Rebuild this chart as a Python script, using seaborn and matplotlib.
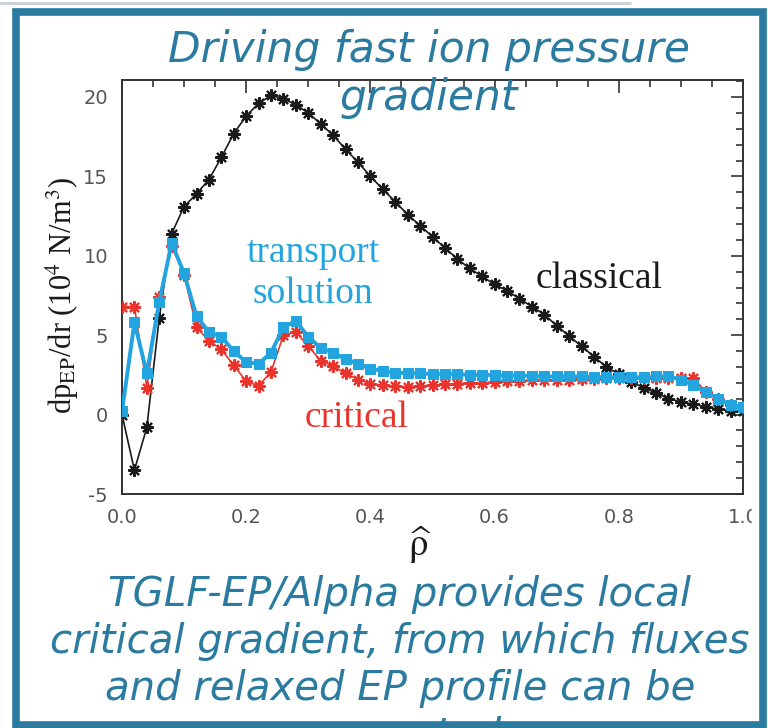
import numpy as np
import pandas as pd
import matplotlib
matplotlib.use("Agg")
import matplotlib.pyplot as plt
from matplotlib.patches import Rectangle
from matplotlib.lines import Line2D
from matplotlib.ticker import MultipleLocator
import seaborn as sns

# normalized radius, one point every 0.02
rho = [0.00, 0.02, 0.04, 0.06, 0.08, 0.10, 0.12, 0.14, 0.16, 0.18,
       0.20, 0.22, 0.24, 0.26, 0.28, 0.30, 0.32, 0.34, 0.36, 0.38,
       0.40, 0.42, 0.44, 0.46, 0.48, 0.50, 0.52, 0.54, 0.56, 0.58,
       0.60, 0.62, 0.64, 0.66, 0.68, 0.70, 0.72, 0.74, 0.76, 0.78,
       0.80, 0.82, 0.84, 0.86, 0.88, 0.90, 0.92, 0.94, 0.96, 0.98, 1.00]

classical = [0.0, -3.5, -0.8, 6.1, 11.4, 13.1, 13.9, 14.8, 16.2, 17.7,
             18.8, 19.6, 20.1, 19.9, 19.5, 19.0, 18.3, 17.6, 16.7, 15.9,
             15.0, 14.2, 13.4, 12.6, 11.9, 11.2, 10.5, 9.8, 9.2, 8.7,
             8.2, 7.8, 7.3, 6.8, 6.3, 5.6, 4.95, 4.3, 3.65, 3.0,
             2.55, 2.05, 1.7, 1.35, 1.0, 0.8, 0.65, 0.5, 0.35, 0.25, 0.2]

critical = [6.8, 6.8, 1.7, 7.4, 10.6, 8.8, 5.5, 4.65, 4.1, 3.1,
            2.1, 1.8, 2.7, 5.0, 5.2, 4.3, 3.4, 3.05, 2.6, 2.2,
            1.95, 1.85, 1.8, 1.75, 1.8, 1.85, 1.9, 1.95, 2.0, 2.0,
            2.05, 2.1, 2.1, 2.15, 2.15, 2.2, 2.2, 2.25, 2.25, 2.3,
            2.3, 2.3, 2.3, 2.3, 2.3, 2.3, 2.3, 1.45, 1.0, 0.6, 0.45]

transport = [0.2, 5.8, 2.6, 7.1, 10.8, 8.9, 6.2, 5.2, 4.9, 4.0,
             3.3, 3.2, 3.9, 5.5, 5.9, 4.9, 4.2, 3.9, 3.5, 3.2,
             2.9, 2.75, 2.65, 2.6, 2.6, 2.55, 2.55, 2.55, 2.5, 2.5,
             2.5, 2.45, 2.45, 2.45, 2.4, 2.4, 2.4, 2.4, 2.35, 2.35,
             2.35, 2.35, 2.35, 2.4, 2.4, 2.2, 1.85, 1.45, 1.0, 0.6, 0.45]

y_ticks = [-5, 0, 5, 10, 15, 20]
x_ticks = [0.0, 0.2, 0.4, 0.6, 0.8, 1.0]

title_lines = ["Driving fast ion pressure", "gradient"]
note_lines = ["TGLF-EP/Alpha provides local",
              "critical gradient, from which fluxes",
              "and relaxed EP profile can be",
              "computed"]

TEAL = "#2b7ba0"
BLUE = "#22a5de"
RED = "#e8342c"

sns.set_style("white")
plt.rcParams["font.family"] = ["DejaVu Sans"]
plt.rcParams["mathtext.fontset"] = "stix"

W, H = 768, 728
fig = plt.figure(figsize=(W / 100, H / 100), dpi=100)

def fx(px):
    return px / W

def fy(py):
    return 1 - py / H

ax = fig.add_axes([fx(122), fy(494), fx(743) - fx(122), fy(80) - fy(494)])

df = pd.DataFrame(dict(rho=rho, classical=classical,
                       critical=critical, transport=transport))

sns.lineplot(data=df, x="rho", y="classical", ax=ax, color="#1a1a1a",
             lw=1.2, marker=(8, 2, 0), markersize=9, mew=1.5,
             mec="#1a1a1a", zorder=2)
sns.lineplot(data=df, x="rho", y="critical", ax=ax, color=RED,
             lw=1.2, marker=(8, 2, 0), markersize=9, mew=1.5,
             mec=RED, zorder=3)
sns.lineplot(data=df, x="rho", y="transport", ax=ax, color=BLUE,
             lw=2.8, marker="s", markersize=7, mec=BLUE, zorder=4)

ax.set_xlim(0, 1)
ax.set_ylim(-5, 21.07)
ax.set_xlabel("")
ax.set_ylabel("")
ax.set_xticks(x_ticks)
ax.set_xticklabels([f"{t:.1f}" for t in x_ticks])
ax.set_yticks(y_ticks)
ax.set_yticklabels([str(t) for t in y_ticks])
ax.xaxis.set_minor_locator(MultipleLocator(0.05))
ax.yaxis.set_minor_locator(MultipleLocator(1))
ax.tick_params(which="both", direction="in", top=True, right=True,
               color="#333333", width=1.2)
ax.tick_params(which="major", length=9)
ax.tick_params(which="minor", length=5)
ax.tick_params(axis="y", which="major", labelsize=14, labelcolor="#555555", pad=10)
ax.tick_params(axis="x", which="major", labelsize=14, labelcolor="#555555", pad=10)
for s in ax.spines.values():
    s.set_color("#333333")
    s.set_linewidth(1.4)

serif = "Liberation Serif"
ax.text(0.308, 9.63, "transport", color=BLUE, fontsize=27, family=serif,
        ha="center", va="baseline")
ax.text(0.308, 7.05, "solution", color=BLUE, fontsize=27, family=serif,
        ha="center", va="baseline")
ax.text(0.769, 7.95, "classical", color="#1a1a1a", fontsize=27, family=serif,
        ha="center", va="baseline")
ax.text(0.377, -0.76, "critical", color=RED, fontsize=27, family=serif,
        ha="center", va="baseline")

fig.text(fx(62), fy(295), r"dp$_{\mathrm{EP}}$/dr (10$^{4}$ N/m$^{3}$)",
         rotation=90, ha="center", va="center", fontsize=22, family=serif,
         color="#1a1a1a")
fig.text(fx(420), fy(545), r"$\widehat{\mathrm{\rho}}$", ha="center", va="center",
         fontsize=28, color="#1a1a1a")

# clip the right edge of the embedded plot like the slide does
fig.patches.append(Rectangle((fx(752), 0), fx(768) - fx(752), 1,
                             transform=fig.transFigure, color="white",
                             zorder=5))

fig.text(fx(429), fy(62), title_lines[0], ha="center", va="baseline",
         fontsize=30.5, style="italic", color=TEAL, zorder=6)
fig.text(fx(429), fy(110), title_lines[1], ha="center", va="baseline",
         fontsize=30.5, style="italic", color=TEAL, zorder=6)
for i, line in enumerate(note_lines):
    fig.text(fx(400), fy(606 + 47 * i), line, ha="center", va="baseline",
             fontsize=29, style="italic", color=TEAL, zorder=6)

# slide frame
fig.lines.append(Line2D([0, fx(630)], [fy(3), fy(3)], transform=fig.transFigure,
                        color="#c8d0d4", lw=2, zorder=7))
fig.patches.append(Rectangle((fx(16), fy(725)), fx(763) - fx(16), fy(12) - fy(725),
                             transform=fig.transFigure, fill=False,
                             ec=TEAL, lw=5.5, zorder=8))

fig.savefig("out.png", dpi=100, facecolor="white")
